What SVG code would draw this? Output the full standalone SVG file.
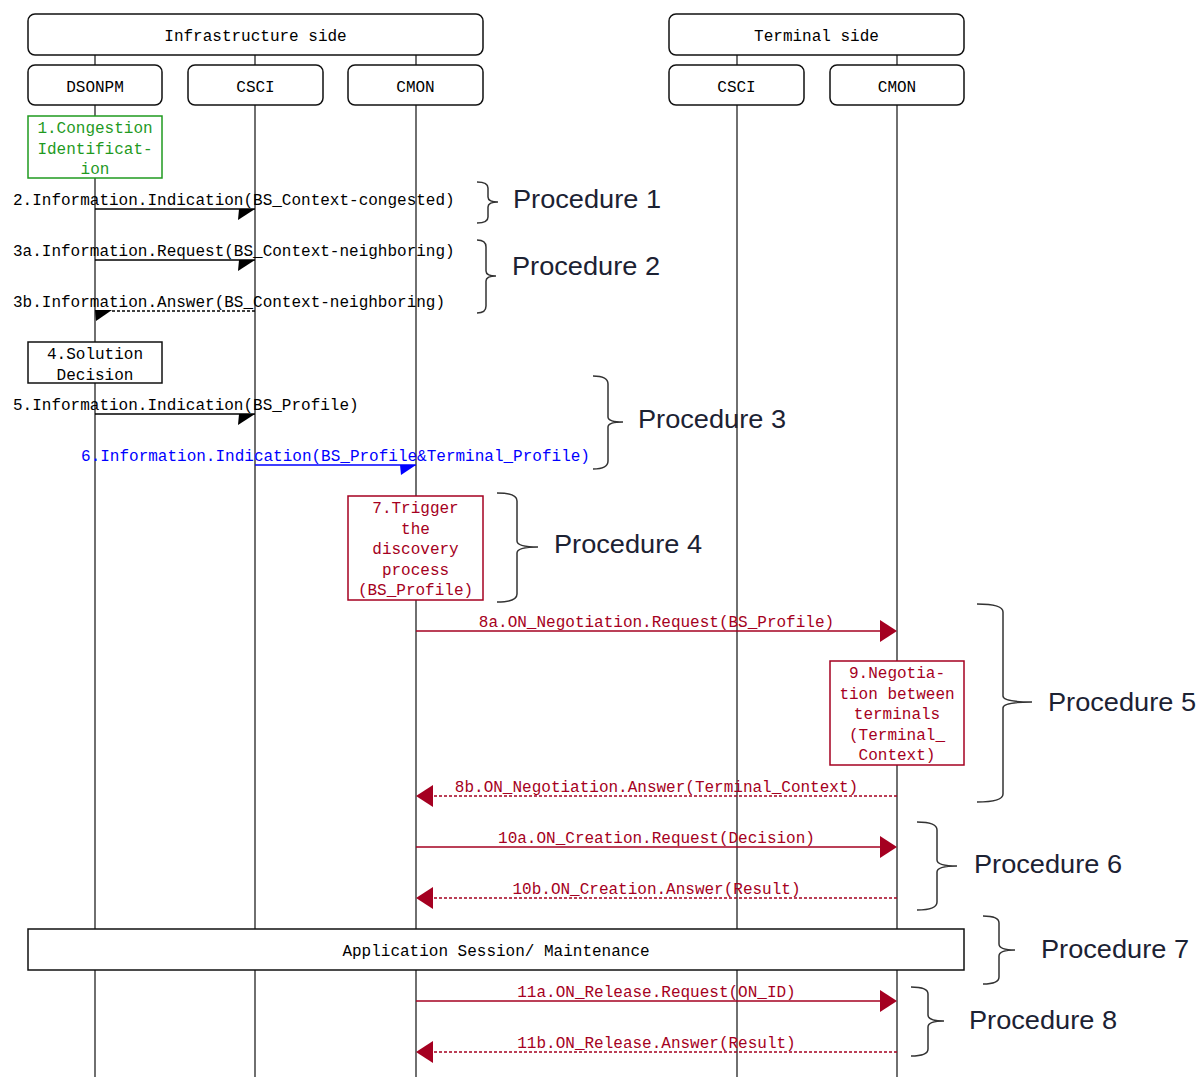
<svg xmlns="http://www.w3.org/2000/svg" width="1198" height="1077" viewBox="0 0 1198 1077">
<defs>
<style>
.mono{font-family:"Liberation Mono","DejaVu Sans Mono",monospace;font-size:16px;fill:#000}
.c{text-anchor:middle}
.box{fill:#fff;stroke:#111;stroke-width:1.5}
.life{stroke:#222;stroke-width:1.3;fill:none}
.msg{stroke:#000;stroke-width:1.5;fill:none}
.red{stroke:#A50021}
.blue{stroke:#0000FF}
.dash{stroke-dasharray:3 2}
.rt{fill:#A50021}
.bt{fill:#0000FF}
.gt{fill:#1F9A1F}
.proc{font-family:"Liberation Sans",Arial,sans-serif;font-size:26px;fill:#1c2233}
.brace{fill:none;stroke:#333;stroke-width:1.5}
</style>
</defs>
<rect width="1198" height="1077" fill="#fff"/>

<g id="lifelines">
<line class="life" x1="95" y1="55" x2="95" y2="1077"/>
<line class="life" x1="255" y1="55" x2="255" y2="1077"/>
<line class="life" x1="416" y1="55" x2="416" y2="1077"/>
<line class="life" x1="737" y1="55" x2="737" y2="1077"/>
<line class="life" x1="897" y1="55" x2="897" y2="1077"/>
</g>

<g id="infra-side"><rect class="box" x="28" y="14" width="455" height="41" rx="7"/><text class="mono c" x="255.5" y="41">Infrastructure side</text></g>
<g id="terminal-side"><rect class="box" x="669" y="14" width="295" height="41" rx="7"/><text class="mono c" x="816.5" y="41">Terminal side</text></g>
<g id="dsonpm"><rect class="box" x="28" y="65" width="134" height="40" rx="7"/><text class="mono c" x="95" y="92">DSONPM</text></g>
<g id="csci-infra"><rect class="box" x="188" y="65" width="135" height="40" rx="7"/><text class="mono c" x="255.5" y="92">CSCI</text></g>
<g id="cmon-infra"><rect class="box" x="348" y="65" width="135" height="40" rx="7"/><text class="mono c" x="415.5" y="92">CMON</text></g>
<g id="csci-term"><rect class="box" x="669" y="65" width="135" height="40" rx="7"/><text class="mono c" x="736.5" y="92">CSCI</text></g>
<g id="cmon-term"><rect class="box" x="830" y="65" width="134" height="40" rx="7"/><text class="mono c" x="897" y="92">CMON</text></g>

<g id="step1"><rect x="28" y="116" width="134" height="62" fill="#fff" stroke="#1F9A1F" stroke-width="1.5"/>
<text class="mono c gt" x="95" y="133">1.Congestion</text><text class="mono c gt" x="95" y="153.5">Identificat-</text><text class="mono c gt" x="95" y="174">ion</text></g>

<g id="step4"><rect class="box" x="28" y="342" width="134" height="41"/>
<text class="mono c" x="95" y="359">4.Solution</text><text class="mono c" x="95" y="379.5">Decision</text></g>

<g id="step7"><rect x="348" y="496" width="135" height="104" fill="#fff" stroke="#A50021" stroke-width="1.5"/>
<text class="mono c rt" x="415.5" y="513">7.Trigger</text><text class="mono c rt" x="415.5" y="533.5">the</text><text class="mono c rt" x="415.5" y="554">discovery</text><text class="mono c rt" x="415.5" y="574.5">process</text><text class="mono c rt" x="415.5" y="595">(BS_Profile)</text></g>

<g id="step9"><rect x="830" y="661" width="134" height="104" fill="#fff" stroke="#A50021" stroke-width="1.5"/>
<text class="mono c rt" x="897" y="678">9.Negotia-</text><text class="mono c rt" x="897" y="698.5">tion between</text><text class="mono c rt" x="897" y="719">terminals</text><text class="mono c rt" x="897" y="739.5">(Terminal_</text><text class="mono c rt" x="897" y="760">Context)</text></g>

<g id="app-session"><rect class="box" x="28" y="929" width="936" height="41"/><text class="mono c" x="496" y="956">Application Session/ Maintenance</text></g>

<g id="connectors">
<line class="msg" x1="95" y1="209" x2="255" y2="209"/><polygon points="255,209 239,209 238,220" fill="#000"/>
<text class="mono" x="13" y="205">2.Information.Indication(BS_Context-congested)</text>

<line class="msg" x1="95" y1="260" x2="255" y2="260"/><polygon points="255,260 239,260 238,271" fill="#000"/>
<text class="mono" x="13" y="256">3a.Information.Request(BS_Context-neighboring)</text>

<line class="msg dash" x1="255" y1="311" x2="110" y2="311"/><polygon points="95,310 112,310 96,321" fill="#000"/>
<text class="mono" x="13" y="307">3b.Information.Answer(BS_Context-neighboring)</text>

<line class="msg" x1="95" y1="414" x2="255" y2="414"/><polygon points="255,414 239,414 238,425" fill="#000"/>
<text class="mono" x="13" y="410">5.Information.Indication(BS_Profile)</text>

<line class="msg blue" x1="255" y1="465" x2="416" y2="465"/><polygon points="416,465 400,465 401,475" fill="#0000FF"/>
<text class="mono c bt" x="335.5" y="461">6.Information.Indication(BS_Profile&amp;Terminal_Profile)</text>

<line class="msg red" x1="416" y1="631" x2="882" y2="631"/><polygon points="897,631 880,620 880,642" fill="#A50021"/>
<text class="mono c rt" x="656.5" y="627">8a.ON_Negotiation.Request(BS_Profile)</text>

<line class="msg red dash" x1="897" y1="796" x2="431" y2="796"/><polygon points="416,796 433,785 433,807" fill="#A50021"/>
<text class="mono c rt" x="656.5" y="792">8b.ON_Negotiation.Answer(Terminal_Context)</text>

<line class="msg red" x1="416" y1="847" x2="882" y2="847"/><polygon points="897,847 880,836 880,858" fill="#A50021"/>
<text class="mono c rt" x="656.5" y="843">10a.ON_Creation.Request(Decision)</text>

<line class="msg red dash" x1="897" y1="898" x2="431" y2="898"/><polygon points="416,898 433,887 433,909" fill="#A50021"/>
<text class="mono c rt" x="656.5" y="894">10b.ON_Creation.Answer(Result)</text>

<line class="msg red" x1="416" y1="1001" x2="882" y2="1001"/><polygon points="897,1001 880,990 880,1012" fill="#A50021"/>
<text class="mono c rt" x="656.5" y="997">11a.ON_Release.Request(ON_ID)</text>

<line class="msg red dash" x1="897" y1="1052" x2="431" y2="1052"/><polygon points="416,1052 433,1041 433,1063" fill="#A50021"/>
<text class="mono c rt" x="656.5" y="1048">11b.ON_Release.Answer(Result)</text>
</g>

<g id="procedures">
<path class="brace" d="M477,182 Q488,182 488,188 L488,197 Q488,202 498,202 M498,202 Q488,202 488,207 L488,217 Q488,223 477,223"/>
<text class="proc" x="513" y="208" textLength="148" lengthAdjust="spacingAndGlyphs">Procedure 1</text>

<path class="brace" d="M477,240 Q486,240 486,247 L486,271 Q486,276 496,276 M496,276 Q486,276 486,281 L486,306 Q486,313 477,313"/>
<text class="proc" x="512" y="275" textLength="148" lengthAdjust="spacingAndGlyphs">Procedure 2</text>

<path class="brace" d="M593,376 Q608,376 608,384 L608,417 Q608,422 623,422 M623,422 Q608,422 608,427 L608,461 Q608,469 593,469"/>
<text class="proc" x="638" y="428" textLength="148" lengthAdjust="spacingAndGlyphs">Procedure 3</text>

<path class="brace" d="M497,493 Q517,493 517,501 L517,541 Q517,547 538,547 M538,547 Q517,547 517,553 L517,594 Q517,602 497,602"/>
<text class="proc" x="554" y="553" textLength="148" lengthAdjust="spacingAndGlyphs">Procedure 4</text>

<path class="brace" d="M977,604 Q1003,604 1003,612 L1003,696 Q1003,702 1032,702 M1032,702 Q1003,702 1003,708 L1003,794 Q1003,802 977,802"/>
<text class="proc" x="1048" y="711" textLength="148" lengthAdjust="spacingAndGlyphs">Procedure 5</text>

<path class="brace" d="M917,822 Q937,822 937,830 L937,860 Q937,866 957,866 M957,866 Q937,866 937,872 L937,902 Q937,910 917,910"/>
<text class="proc" x="974" y="873" textLength="148" lengthAdjust="spacingAndGlyphs">Procedure 6</text>

<path class="brace" d="M983,916 Q999,916 999,923 L999,944 Q999,950 1015,950 M1015,950 Q999,950 999,956 L999,977 Q999,984 983,984"/>
<text class="proc" x="1041" y="958" textLength="148" lengthAdjust="spacingAndGlyphs">Procedure 7</text>

<path class="brace" d="M911,987 Q928,987 928,994 L928,1015 Q928,1021 944,1021 M944,1021 Q928,1021 928,1027 L928,1049 Q928,1056 911,1056"/>
<text class="proc" x="969" y="1029" textLength="148" lengthAdjust="spacingAndGlyphs">Procedure 8</text>
</g>
</svg>
